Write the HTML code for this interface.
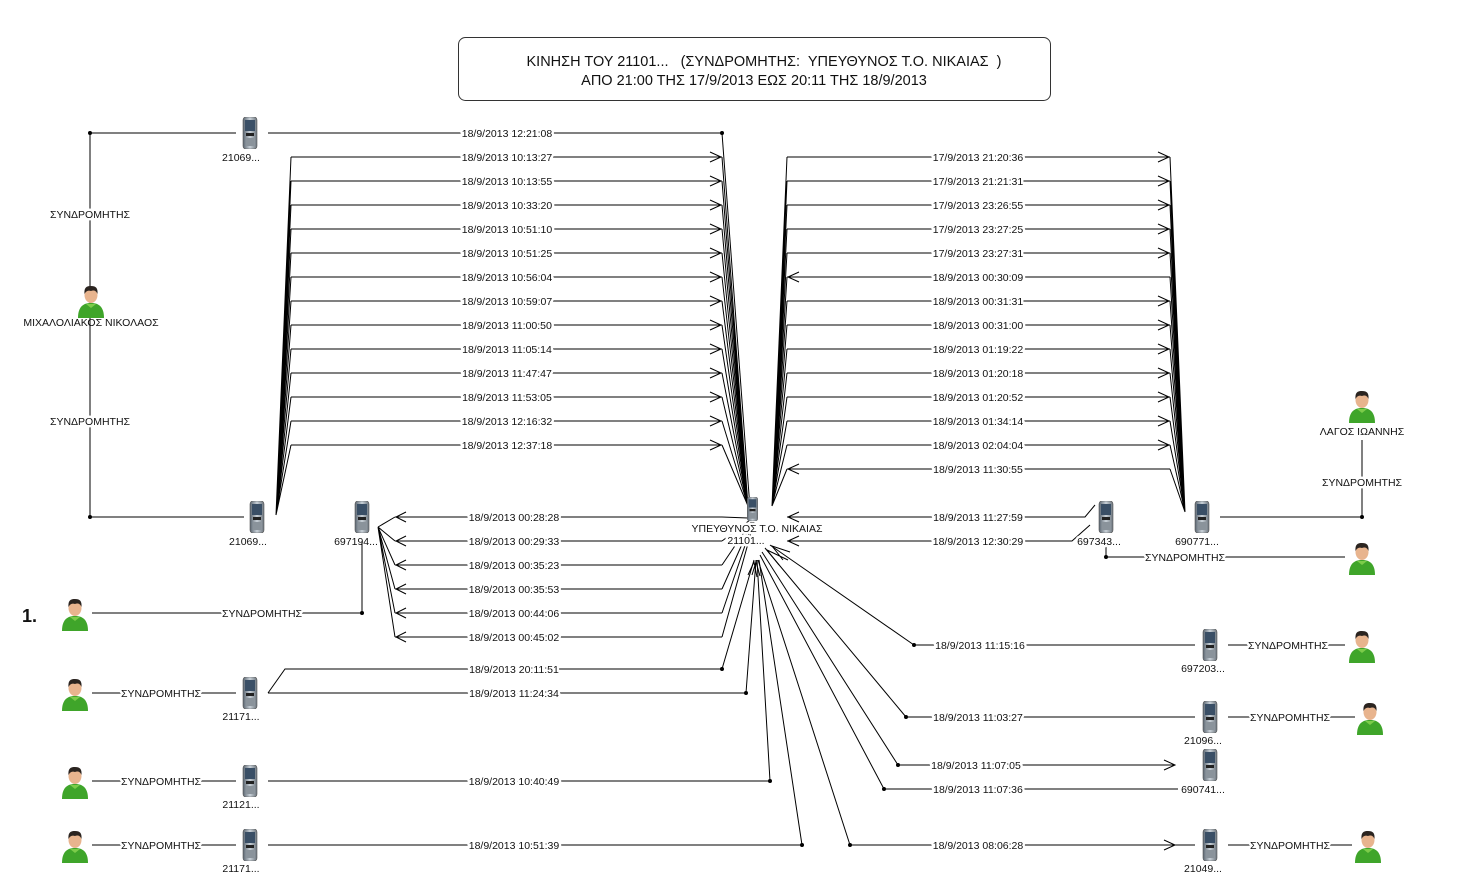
<!DOCTYPE html>
<html><head><meta charset="utf-8"><style>
html,body{margin:0;padding:0;background:#fff;width:1460px;height:896px;overflow:hidden}
svg text{font-family:"Liberation Sans",Tahoma,sans-serif;font-size:10.5px;fill:#111}
.l{paint-order:stroke;stroke:#fff;stroke-width:5px;stroke-linejoin:round}
</style></head><body>
<svg width="1460" height="896" viewBox="0 0 1460 896" xmlns="http://www.w3.org/2000/svg">
<defs>
<linearGradient id="pg" x1="0" x2="1"><stop offset="0" stop-color="#5a6570"/><stop offset=".5" stop-color="#c9d1d8"/><stop offset="1" stop-color="#6b747c"/></linearGradient>
<symbol id="ph" viewBox="0 0 16 32" width="16" height="32">
<rect x="1" y="0" width="14" height="32" rx="3" fill="url(#pg)" stroke="#555" stroke-width=".6"/>
<rect x="3" y="3" width="10" height="11" fill="#3a4f66"/>
<rect x="4" y="16" width="8" height="3" fill="#222"/>
<rect x="4" y="21" width="8" height="8" fill="#8a939b"/>
</symbol>
<symbol id="pp" viewBox="0 0 28 34" width="28" height="34">
<path d="M1 34 C1 22 7 19 14 19 C21 19 27 22 27 34Z" fill="#3fa52a"/>
<path d="M9 20 L14 24 L19 20" fill="#7ccc4a"/>
<ellipse cx="14" cy="11" rx="6.5" ry="8" fill="#e8b48e"/>
<path d="M7.5 10 C7 3 10 2 14 2 C19 2 21 4 20.5 10 C19 6 16 6 14 7 C11 6 9 7 7.5 10Z" fill="#2b2420"/>
</symbol>
</defs>

<rect x="458.5" y="37.5" width="592" height="63" rx="7" fill="#fff" stroke="#333"/>
<text x="764" y="66" text-anchor="middle" xml:space="preserve" style="font-size:14.5px;white-space:pre">ΚΙΝΗΣΗ ΤΟΥ 21101...   (ΣΥΝΔΡΟΜΗΤΗΣ:  ΥΠΕΥΘΥΝΟΣ Τ.Ο. ΝΙΚΑΙΑΣ  )</text>
<text x="754" y="85" text-anchor="middle" style="font-size:14.5px">ΑΠΟ 21:00 ΤΗΣ 17/9/2013 ΕΩΣ 20:11 ΤΗΣ 18/9/2013</text>

<g stroke="#000" stroke-width="1" fill="none">
<line x1="90" y1="133" x2="90" y2="517"/>
<line x1="90" y1="133" x2="236" y2="133"/>
<line x1="90" y1="517" x2="244" y2="517"/>
<line x1="268" y1="133" x2="722" y2="133"/>
<line x1="722" y1="133" x2="750" y2="508"/>
<path d="M291 157H722M291 181H722M291 205H722M291 229H722M291 253H722M291 277H722M291 301H722M291 325H722M291 349H722M291 373H722M291 397H722M291 421H722M291 445H722"/>
<path d="M291 157L276 515M291 181L276 515M291 205L276 515M291 229L276 515M291 253L276 515M291 277L276 515M291 301L276 515M291 325L276 515M291 349L276 515M291 373L276 515M291 397L276 515M291 421L276 515M291 445L276 515"/>
<path d="M722 157L748 506M722 181L748 506M722 205L748 506M722 229L748 506M722 253L748 506M722 277L748 506M722 301L748 506M722 325L748 506M722 349L748 506M722 373L748 506M722 397L748 506M722 421L748 506M722 445L748 506"/>
<path d="M710 152L721 157L710 162M710 176L721 181L710 186M710 200L721 205L710 210M710 224L721 229L710 234M710 248L721 253L710 258M710 272L721 277L710 282M710 296L721 301L710 306M710 320L721 325L710 330M710 344L721 349L710 354M710 368L721 373L710 378M710 392L721 397L710 402M710 416L721 421L710 426M710 440L721 445L710 450"/>
<path d="M787 157H1170M787 181H1170M787 205H1170M787 229H1170M787 253H1170M787 277H1170M787 301H1170M787 325H1170M787 349H1170M787 373H1170M787 397H1170M787 421H1170M787 445H1170M787 469H1170"/>
<path d="M787 157L772 506M787 181L772 506M787 205L772 506M787 229L772 506M787 253L772 506M787 277L772 506M787 301L772 506M787 325L772 506M787 349L772 506M787 373L772 506M787 397L772 506M787 421L772 506M787 445L772 506M787 469L772 506"/>
<path d="M1170 157L1185 512M1170 181L1185 512M1170 205L1185 512M1170 229L1185 512M1170 253L1185 512M1170 277L1185 512M1170 301L1185 512M1170 325L1185 512M1170 349L1185 512M1170 373L1185 512M1170 397L1185 512M1170 421L1185 512M1170 445L1185 512M1170 469L1185 512"/>
<path d="M1158 152L1169 157L1158 162M1158 176L1169 181L1158 186M1158 200L1169 205L1158 210M1158 224L1169 229L1158 234M1158 248L1169 253L1158 258M1158 296L1169 301L1158 306M1158 320L1169 325L1158 330M1158 344L1169 349L1158 354M1158 368L1169 373L1158 378M1158 392L1169 397L1158 402M1158 416L1169 421L1158 426M1158 440L1169 445L1158 450"/>
<path d="M799 272L788 277L799 282M799 464L788 469L799 474"/>
<path d="M395 517H722M395 541H722M395 565H722M395 589H722M395 613H722M395 637H722"/>
<path d="M395 517L378 527M395 541L378 527M395 565L378 527M395 589L378 527M395 613L378 527M395 637L378 527"/>
<path d="M722 517L748 518M722 541L750 520M722 565L751 522M722 589L752 522M722 613L753 522M722 637L754 522"/>
<path d="M406 512L396 517L406 522M406 536L396 541L406 546M406 560L396 565L406 570M406 584L396 589L406 594M406 608L396 613L406 618M406 632L396 637L406 642"/>
<line x1="92" y1="613" x2="362" y2="613"/>
<line x1="362" y1="613" x2="362" y2="542"/>
<line x1="92" y1="693" x2="236" y2="693"/>
<line x1="92" y1="781" x2="236" y2="781"/>
<line x1="92" y1="845" x2="236" y2="845"/>
<path d="M268 693L285 669H722M268 693H746"/>
<path d="M722 669L754 560M746 693L756 560M770 781L757 560M802 845L759 560"/>
<line x1="268" y1="781" x2="770" y2="781"/>
<line x1="268" y1="845" x2="802" y2="845"/>
<path d="M748 575L754 562L757 577M752 575L756 562L760 576"/>
<path d="M787 517H1085L1095 505M787 541H1072L1090 525"/>
<path d="M799 512L788 517L799 522M799 536L788 541L799 546"/>
<line x1="1220" y1="517" x2="1362" y2="517"/>
<line x1="1362" y1="517" x2="1362" y2="440"/>
<line x1="1106" y1="545" x2="1106" y2="557"/>
<line x1="1106" y1="557" x2="1345" y2="557"/>
<path d="M914 645H1195M906 717H1195M898 765H1175M884 789H1178M850 845H1195"/>
<path d="M914 645L770 545M906 717L765 548M898 765L762 552M884 789L760 555M850 845L758 560"/>
<path d="M790 552L772 546L783 560M788 560L767 550L779 565"/>
<path d="M1164 760L1175 765L1164 770M1164 840L1175 845L1164 850"/>
<path d="M1228 645H1345M1228 717H1355M1228 845H1352"/>
</g>
<g fill="#000">
<circle cx="90" cy="133" r="2"/><circle cx="90" cy="517" r="2"/><circle cx="722" cy="133" r="2"/>
<circle cx="362" cy="613" r="2"/><circle cx="722" cy="669" r="2"/><circle cx="746" cy="693" r="2"/>
<circle cx="770" cy="781" r="2"/><circle cx="802" cy="845" r="2"/><circle cx="1362" cy="517" r="2"/>
<circle cx="1106" cy="557" r="2"/><circle cx="914" cy="645" r="2"/><circle cx="906" cy="717" r="2"/>
<circle cx="898" cy="765" r="2"/><circle cx="884" cy="789" r="2"/><circle cx="850" cy="845" r="2"/>
</g>

<use href="#ph" x="242" y="117"/><use href="#ph" x="249" y="501"/><use href="#ph" x="354" y="501"/>
<use href="#ph" x="746" y="497" width="13" height="24"/><use href="#ph" x="242" y="677"/><use href="#ph" x="242" y="765"/>
<use href="#ph" x="242" y="829"/><use href="#ph" x="1098" y="501"/><use href="#ph" x="1194" y="501"/>
<use href="#ph" x="1202" y="629"/><use href="#ph" x="1202" y="701"/><use href="#ph" x="1202" y="749"/>
<use href="#ph" x="1202" y="829"/>
<use href="#pp" x="77" y="284"/><use href="#pp" x="61" y="597"/><use href="#pp" x="61" y="677"/>
<use href="#pp" x="61" y="765"/><use href="#pp" x="61" y="829"/><use href="#pp" x="1348" y="389"/>
<use href="#pp" x="1348" y="541"/><use href="#pp" x="1348" y="629"/><use href="#pp" x="1356" y="701"/>
<use href="#pp" x="1354" y="829"/>

<g text-anchor="middle">
<text x="90" y="218" class="l">ΣΥΝΔΡΟΜΗΤΗΣ</text><text x="90" y="425" class="l">ΣΥΝΔΡΟΜΗΤΗΣ</text>
<text x="91" y="326">ΜΙΧΑΛΟΛΙΑΚΟΣ ΝΙΚΟΛΑΟΣ</text>
<text x="241" y="161">21069...</text><text x="248" y="545">21069...</text><text x="356" y="545">697194...</text>
<text x="757" y="532" class="l">ΥΠΕΥΘΥΝΟΣ Τ.Ο. ΝΙΚΑΙΑΣ</text><text x="746" y="544" class="l">21101...</text>
<text x="241" y="720">21171...</text><text x="241" y="808">21121...</text><text x="241" y="872">21171...</text>
<text x="1099" y="545" class="l">697343...</text><text x="1197" y="545">690771...</text>
<text x="1203" y="672">697203...</text><text x="1203" y="744">21096...</text><text x="1203" y="793" class="l">690741...</text><text x="1203" y="872">21049...</text>
<text x="1362" y="435">ΛΑΓΟΣ ΙΩΑΝΝΗΣ</text><text x="1362" y="486" class="l">ΣΥΝΔΡΟΜΗΤΗΣ</text>
<text x="1185" y="561" class="l">ΣΥΝΔΡΟΜΗΤΗΣ</text>
<text x="262" y="617" class="l">ΣΥΝΔΡΟΜΗΤΗΣ</text><text x="161" y="697" class="l">ΣΥΝΔΡΟΜΗΤΗΣ</text>
<text x="161" y="785" class="l">ΣΥΝΔΡΟΜΗΤΗΣ</text><text x="161" y="849" class="l">ΣΥΝΔΡΟΜΗΤΗΣ</text>
<text x="1288" y="649" class="l">ΣΥΝΔΡΟΜΗΤΗΣ</text><text x="1290" y="721" class="l">ΣΥΝΔΡΟΜΗΤΗΣ</text><text x="1290" y="849" class="l">ΣΥΝΔΡΟΜΗΤΗΣ</text>

<text x="507" y="137" class="l">18/9/2013 12:21:08</text>
<text x="507" y="161" class="l">18/9/2013 10:13:27</text><text x="507" y="185" class="l">18/9/2013 10:13:55</text>
<text x="507" y="209" class="l">18/9/2013 10:33:20</text><text x="507" y="233" class="l">18/9/2013 10:51:10</text>
<text x="507" y="257" class="l">18/9/2013 10:51:25</text><text x="507" y="281" class="l">18/9/2013 10:56:04</text>
<text x="507" y="305" class="l">18/9/2013 10:59:07</text><text x="507" y="329" class="l">18/9/2013 11:00:50</text>
<text x="507" y="353" class="l">18/9/2013 11:05:14</text><text x="507" y="377" class="l">18/9/2013 11:47:47</text>
<text x="507" y="401" class="l">18/9/2013 11:53:05</text><text x="507" y="425" class="l">18/9/2013 12:16:32</text>
<text x="507" y="449" class="l">18/9/2013 12:37:18</text>

<text x="978" y="161" class="l">17/9/2013 21:20:36</text><text x="978" y="185" class="l">17/9/2013 21:21:31</text>
<text x="978" y="209" class="l">17/9/2013 23:26:55</text><text x="978" y="233" class="l">17/9/2013 23:27:25</text>
<text x="978" y="257" class="l">17/9/2013 23:27:31</text><text x="978" y="281" class="l">18/9/2013 00:30:09</text>
<text x="978" y="305" class="l">18/9/2013 00:31:31</text><text x="978" y="329" class="l">18/9/2013 00:31:00</text>
<text x="978" y="353" class="l">18/9/2013 01:19:22</text><text x="978" y="377" class="l">18/9/2013 01:20:18</text>
<text x="978" y="401" class="l">18/9/2013 01:20:52</text><text x="978" y="425" class="l">18/9/2013 01:34:14</text>
<text x="978" y="449" class="l">18/9/2013 02:04:04</text><text x="978" y="473" class="l">18/9/2013 11:30:55</text>

<text x="514" y="521" class="l">18/9/2013 00:28:28</text><text x="514" y="545" class="l">18/9/2013 00:29:33</text>
<text x="514" y="569" class="l">18/9/2013 00:35:23</text><text x="514" y="593" class="l">18/9/2013 00:35:53</text>
<text x="514" y="617" class="l">18/9/2013 00:44:06</text><text x="514" y="641" class="l">18/9/2013 00:45:02</text>
<text x="514" y="673" class="l">18/9/2013 20:11:51</text><text x="514" y="697" class="l">18/9/2013 11:24:34</text>
<text x="514" y="785" class="l">18/9/2013 10:40:49</text><text x="514" y="849" class="l">18/9/2013 10:51:39</text>

<text x="978" y="521" class="l">18/9/2013 11:27:59</text><text x="978" y="545" class="l">18/9/2013 12:30:29</text>
<text x="980" y="649" class="l">18/9/2013 11:15:16</text><text x="978" y="721" class="l">18/9/2013 11:03:27</text>
<text x="976" y="769" class="l">18/9/2013 11:07:05</text><text x="978" y="793" class="l">18/9/2013 11:07:36</text>
<text x="978" y="849" class="l">18/9/2013 08:06:28</text>
</g>
<text x="22" y="622" style="font-size:18px;font-weight:bold">1.</text>
</svg>
</body></html>
